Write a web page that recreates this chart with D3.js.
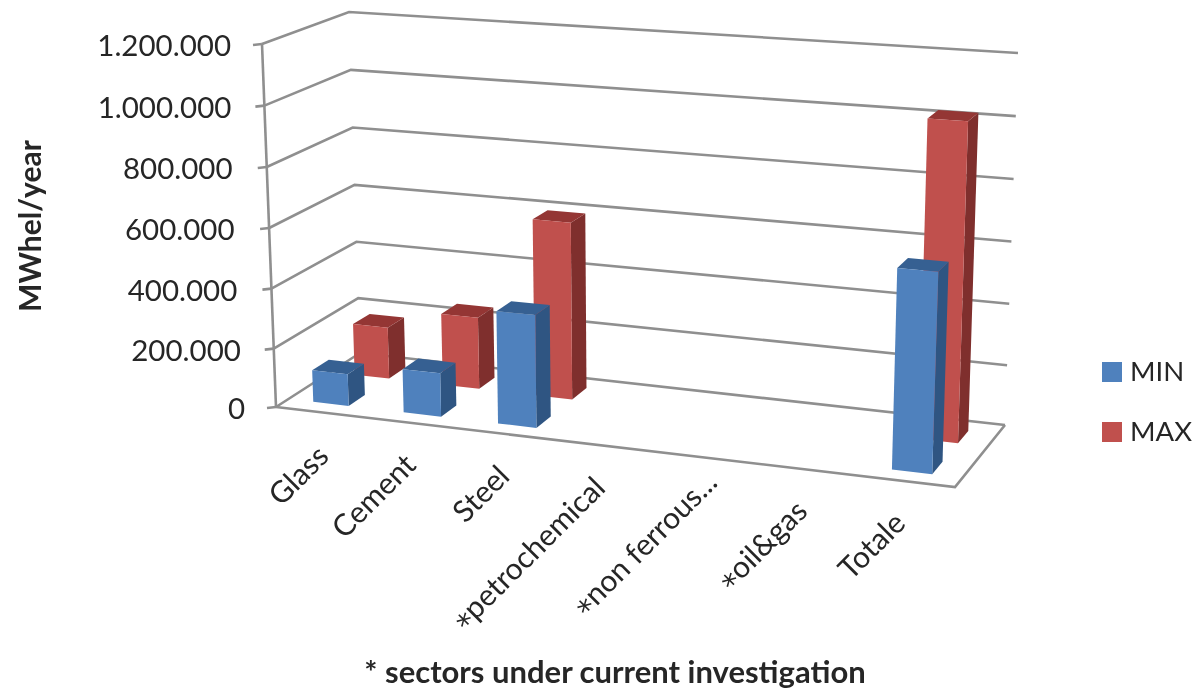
<!DOCTYPE html>
<html><head><meta charset="utf-8">
<script src="https://cdnjs.cloudflare.com/ajax/libs/d3/7.8.5/d3.min.js"></script>
<style>html,body{margin:0;padding:0;background:#fff;overflow:hidden}svg{display:block;filter:blur(0.6px)}text{font-family:Lato,"Open Sans",sans-serif;fill:#262626}</style>
</head><body><svg id="c" width="1193" height="691"></svg>
<script>
const categories = ["Glass","Cement","Steel","*petrochemical","*non ferrous...","*oil&gas","Totale"];
const seriesNames = ["MAX","MIN"];
const minValues = [110000,148000,373000,null,null,null,631000];
const maxValues = [180000,247000,597000,null,null,null,1024000];
const tickValues = [0,200000,400000,600000,800000,1000000,1200000];
const tickLabels = ["0","200.000","400.000","600.000","800.000","1.000.000","1.200.000"];

const svg = d3.select("#c");
// 3-D box corners on screen: [x,y] for front/back, left/right, floor/top
const box = {
  fl0:[276,407], flT:[262,44], bl0:[360,353], blT:[349,12],
  br0:[1005,425], brT:[1018,53], fr0:[955,487], frT:[968,92]
};
const labelNudge = [[6,2],[1,0],[-1,0],[-3,0],[10,-17],[0,0],[-3,0]];
const lerp = (a,b,t)=>[a[0]+(b[0]-a[0])*t, a[1]+(b[1]-a[1])*t];
function project(u,d,v){
  const f0=lerp(box.fl0,box.fr0,u), fT=lerp(box.flT,box.frT,u);
  const b0=lerp(box.bl0,box.br0,u), bT=lerp(box.blT,box.brT,u);
  return lerp(lerp(f0,b0,d), lerp(fT,bT,d), v);
}
const yScale = d3.scalePow().exponent(1.02).domain([0,1200000]).range([0,1]);
const band = d3.scaleBand().domain(categories).range([0,1]).paddingInner(0.6).paddingOuter(0.3);
const warp = d3.scalePow().exponent(1.05).domain([0,1]).range([0,1]);
const depth = d3.scaleBand().domain(seriesNames).range([0,1]).paddingInner(0.6).paddingOuter(0.3);
const xAt = t => warp(t);
const line = d3.line();
const grid = "#8f8f8f";

const g = svg.append("g").attr("fill","none").attr("stroke",grid).attr("stroke-width",2.6);
// walls
tickValues.forEach(t=>{
  const v=yScale(t);
  g.append("path").attr("d",line([project(0,0,v),project(0,1,v),project(1,1,v)]));
  const p=project(0,0,v);
  g.append("path").attr("d",line([[p[0]-9,p[1]+1],p]));
});
// axis and floor
g.append("path").attr("d",line([project(0,0,0),project(0,0,1)]));
g.append("path").attr("d",line([project(0,0,0),project(1,0,0),project(1,1,0)]));

// bars, back series first
function drawBars(name,values,cols){
  const s=svg.append("g").attr("class","series-"+name);
  categories.forEach((c,i)=>{
    if(values[i]==null) return;
    const u0=xAt(band(c)), u1=xAt(band(c)+band.bandwidth());
    const d0=1-depth(name)-depth.bandwidth(), d1=1-depth(name);
    const v=yScale(values[i]);
    const front=[project(u0,d0,0),project(u1,d0,0),project(u1,d0,v),project(u0,d0,v)];
    const side=[project(u1,d0,0),project(u1,d1,0),project(u1,d1,v),project(u1,d0,v)];
    const top=[project(u0,d0,v),project(u1,d0,v),project(u1,d1,v),project(u0,d1,v)];
    s.append("path").attr("d",line(side)+"Z").attr("fill",cols.side);
    s.append("path").attr("d",line(top)+"Z").attr("fill",cols.top);
    s.append("path").attr("d",line(front)+"Z").attr("fill",cols.front);
  });
}
drawBars("MAX",maxValues,{front:"#c0504d",side:"#7f2f2d",top:"#943634"});
drawBars("MIN",minValues,{front:"#4f81bd",side:"#2f5582",top:"#366092"});

// value labels
tickValues.forEach((t,i)=>{
  const p=project(0,0,yScale(t));
  const dx=p[0]-box.flT[0];
  svg.append("text").attr("x",231+dx*dx/14).attr("y",p[1]+12).attr("text-anchor","end")
    .attr("font-size",29.5).text(tickLabels[i]);
});
// category labels
categories.forEach((c,i)=>{
  const u=xAt(band(c)+band.bandwidth()/2);
  const p=project(u,0,0);
  const t=svg.append("text").attr("transform",`translate(${p[0]+6+labelNudge[i][0]},${p[1]+44+labelNudge[i][1]}) rotate(-45)`)
    .attr("text-anchor","end").attr("font-size",30);
  if(c[0]==="*"){
    t.append("tspan").attr("font-family","'DejaVu Sans'").attr("dy",6).text("*");
    t.append("tspan").attr("dy",-6).text(c.slice(1));
  } else t.text(c);
});
// titles
svg.append("text").attr("transform","translate(41,226) rotate(-90)").attr("text-anchor","middle")
  .attr("font-size",30).attr("font-weight",700).text("MWhel/year");
svg.append("text").attr("x",615).attr("y",683).attr("text-anchor","middle")
  .attr("font-size",31).attr("font-weight",700).text("* sectors under current investigation");
// legend
const lc=d3.scaleOrdinal().domain(["MIN","MAX"]).range(["#4f81bd","#c0504d"]);
const ly=d3.scalePoint().domain(["MIN","MAX"]).range([372,432]);
["MIN","MAX"].forEach(n=>{
  svg.append("rect").attr("x",1102).attr("y",ly(n)-10).attr("width",20).attr("height",20).attr("fill",lc(n));
  svg.append("text").attr("x",1130).attr("y",ly(n)+9).attr("font-size",27.5).text(n);
});
</script></body></html>
